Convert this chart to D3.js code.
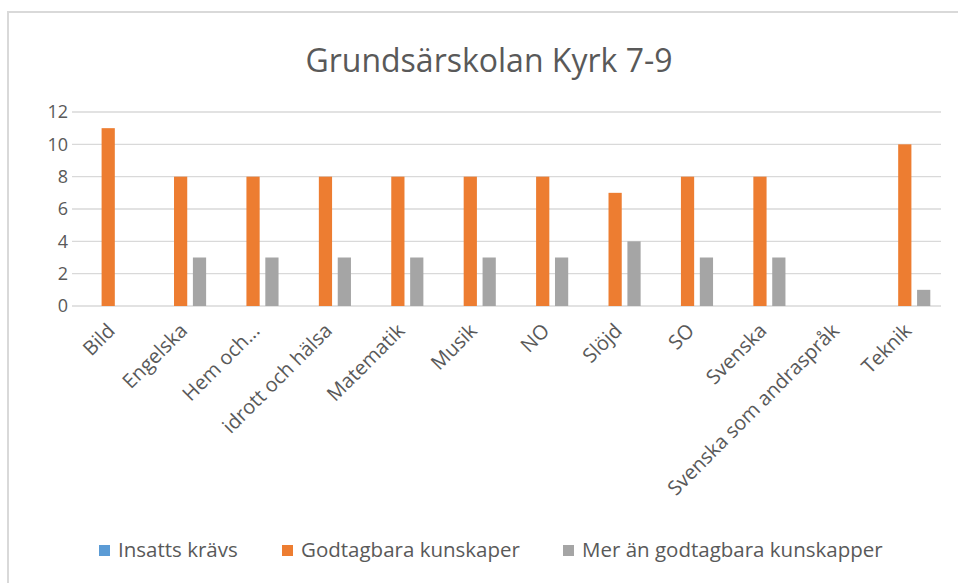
<!DOCTYPE html>
<html lang="sv">
<head>
<meta charset="UTF-8">
<title>Grundsärskolan Kyrk 7-9</title>
<script src="https://d3js.org/d3.v7.min.js"></script>
<style>
  body { margin: 0; background: #fff; }
  text { font-family: "Open Sans", "Noto Sans", sans-serif; fill: #595959; }
</style>
</head>
<body>
<svg id="chart" width="958" height="583"></svg>
<script>
// data
var categories = ["Bild", "Engelska", "Hem och...", "idrott och hälsa", "Matematik", "Musik",
                  "NO", "Slöjd", "SO", "Svenska", "Svenska som andraspråk", "Teknik"];
var seriesNames = ["Insatts krävs", "Godtagbara kunskaper", "Mer än godtagbara kunskapper"];
var insatts    = [0, 0, 0, 0, 0, 0, 0, 0, 0, 0, 0, 0];
var godtagbara = [11, 8, 8, 8, 8, 8, 8, 7, 8, 8, 0, 10];
var merAn      = [0, 3, 3, 3, 3, 3, 3, 4, 3, 3, 0, 1];
var yTicks = [0, 2, 4, 6, 8, 10, 12];
var colors = ["#5b9bd5", "#ed7d31", "#a5a5a5"];

var values = [insatts, godtagbara, merAn];
var rows = categories.map(function (c, i) {
  return { cat: c, vals: values.map(function (s) { return s[i]; }) };
});

var svg = d3.select("#chart");

// chart frame
svg.append("path")
  .attr("d", "M8,583 V12 H958")
  .attr("fill", "none")
  .attr("stroke", "#d9d9d9")
  .attr("stroke-width", 2);

var plotLeft = 72, plotRight = 941, plotTop = 112, plotBottom = 306;

var x = d3.scaleBand().domain(categories).range([plotLeft, plotRight]);
var xs = d3.scaleBand().domain([0, 1, 2]).range([-25.5, 25.5]).paddingInner(0.3);
var y = d3.scaleLinear().domain([0, 12]).range([plotBottom, plotTop]);

svg.append("text")
  .attr("x", 489).attr("y", 72)
  .attr("text-anchor", "middle")
  .style("font-size", "32px")
  .text("Grundsärskolan Kyrk 7-9");

// gridlines
svg.append("g").selectAll("line")
  .data(yTicks)
  .enter().append("line")
  .attr("x1", plotLeft).attr("x2", plotRight)
  .attr("y1", function (d) { return y(d); })
  .attr("y2", function (d) { return y(d); })
  .attr("stroke", "#d9d9d9")
  .attr("stroke-width", 1.3);

// y labels
var yAxis = svg.append("g")
  .attr("transform", "translate(" + (plotLeft - 4) + ",0)")
  .call(d3.axisLeft(y).tickValues(yTicks).tickSize(0).tickPadding(0));
yAxis.select(".domain").remove();
yAxis.selectAll("text")
  .style("font-size", "18px")
  .style("font-family", "'Open Sans', sans-serif")
  .attr("fill", "#595959");

// bars
var groups = svg.append("g").selectAll("g")
  .data(rows)
  .enter().append("g")
  .attr("transform", function (d) { return "translate(" + (x(d.cat) + x.bandwidth() / 2) + ",0)"; });

groups.selectAll("rect")
  .data(function (d) { return d.vals; })
  .enter().append("rect")
  .attr("x", function (d, i) { return xs(i); })
  .attr("width", xs.bandwidth())
  .attr("y", function (d) { return y(d); })
  .attr("height", function (d) { return plotBottom - y(d); })
  .attr("fill", function (d, i) { return colors[i]; });

// category labels
svg.append("g").selectAll("text")
  .data(categories)
  .enter().append("text")
  .attr("text-anchor", "end")
  .style("font-size", "20px")
  .attr("transform", function (d) {
    return "translate(" + (x(d) + x.bandwidth() / 2 + 8) + "," + (plotBottom + 26) + ") rotate(-45)";
  })
  .text(function (d) { return d; });

// legend
var legendX = [99, 282, 563];
var legend = svg.append("g").selectAll("g")
  .data(seriesNames)
  .enter().append("g")
  .attr("transform", function (d, i) { return "translate(" + legendX[i] + ",545)"; });
legend.append("rect")
  .attr("width", 11).attr("height", 11)
  .attr("fill", function (d, i) { return colors[i]; });
legend.append("text")
  .attr("x", 19).attr("y", 12)
  .style("font-size", "20.5px")
  .text(function (d) { return d; });
</script>
</body>
</html>
